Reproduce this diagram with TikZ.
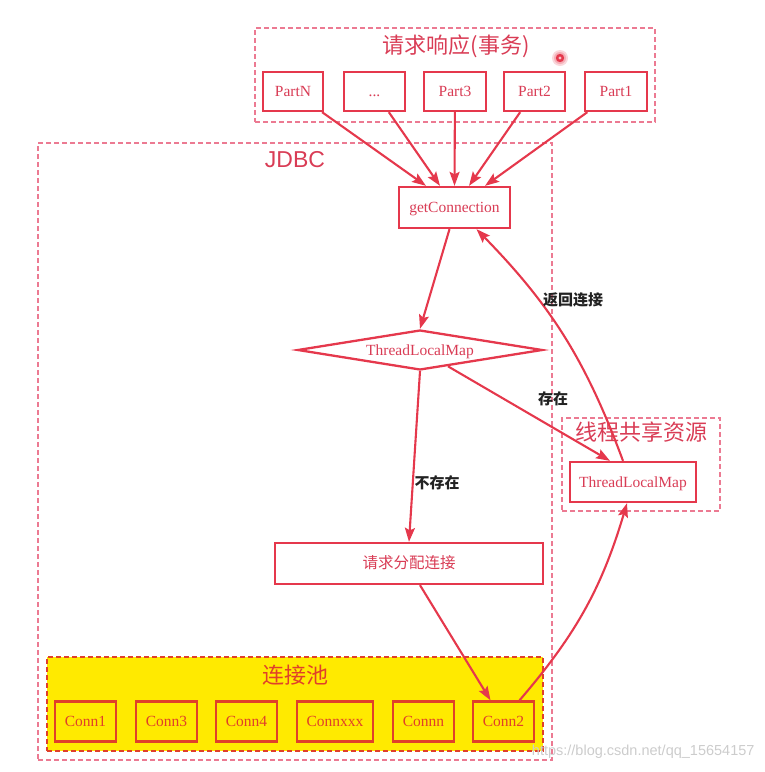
\documentclass[tikz,border=0pt]{standalone}
\usepackage{fontspec}
\setmainfont{Liberation Serif}
\setsansfont{Liberation Sans}
\newfontfamily\cjk{Noto Sans CJK SC}
\usetikzlibrary{arrows.meta,shapes.geometric,calc}
\definecolor{lred}{HTML}{E5384C}
\definecolor{dashred}{HTML}{EC7A92}
\definecolor{txtred}{HTML}{D93C55}
\definecolor{poolyel}{HTML}{FFEA00}
\definecolor{pooltxt}{HTML}{E0402A}
\definecolor{lbl}{HTML}{222222}
\begin{document}
\begin{tikzpicture}[x=1pt,y=-1pt,
  box/.style={draw=lred,line width=2.3pt,text=txtred,font=\fontsize{15.5}{17}\selectfont,inner sep=0pt,text height=11.5pt,text depth=1.5pt,minimum height=39pt,fill=white},
  cbox/.style={draw=pooltxt,line width=2.3pt,text=pooltxt,font=\fontsize{15.5}{17}\selectfont,inner sep=0pt,text height=11.5pt,text depth=1.5pt,minimum height=40pt,minimum width=61pt},
  group/.style={draw=dashred,line width=1.2pt,dash pattern=on 5pt off 3pt,inner sep=0pt},
  title/.style={text=txtred,font=\cjk\fontsize{22}{24}\selectfont},
  lab/.style={text=lbl,font=\cjk\bfseries\fontsize{15}{17}\selectfont,inner sep=1pt},
  arr/.style={draw=lred,line width=2.1pt,-{Stealth[length=14pt,width=10pt,inset=2.5pt]}}
]
\useasboundingbox (0,0) rectangle (765,772);

% containers
\node[group,minimum width=400pt,minimum height=94pt] (reqgrp) at (455,75) {};
\node[group,minimum width=514pt,minimum height=617pt] (jdbc) at (295,451.5) {};
\node[group,minimum width=158pt,minimum height=93pt] (sharegrp) at (641,464.5) {};
\node[group,draw=pooltxt,fill=poolyel,minimum width=496pt,minimum height=94pt] (pool) at (295,704) {};

% titles
\node[title] (reqtitle) at (456,46) {请求响应(事务)};
\node[text=txtred,font=\sffamily\fontsize{23}{25}\selectfont] (jdbctitle) at (295,160) {JDBC};
\node[title] (sharetitle) at (641,432) {线程共享资源};
\node[title,text=pooltxt] (pooltitle) at (295,675) {连接池};

% cursor dot
\fill[lred!20] (560,58) circle (8pt);
\fill[lred!40] (560,58) circle (6pt);
\fill[lred] (560,58) circle (4.2pt);
\fill[white!70!lred] (560,58) circle (1.6pt);

% parts
\node[box,minimum width=60pt] (partN) at (293,91.5) {PartN};
\node[box,minimum width=61pt] (dots) at (374.5,91.5) {...};
\node[box,minimum width=62pt] (part3) at (455,91.5) {Part3};
\node[box,minimum width=61pt] (part2) at (534.5,91.5) {Part2};
\node[box,minimum width=62pt] (part1) at (616,91.5) {Part1};

% main flow
\node[box,minimum width=111pt,minimum height=41pt] (gc) at (454.5,207.5) {getConnection};
\node[diamond,draw=lred,line width=2.3pt,text=txtred,font=\fontsize{15.5}{17}\selectfont,inner sep=0pt,text height=11.5pt,text depth=1.5pt,aspect=6,minimum width=245pt,minimum height=40pt,fill=white] (dia) at (420,350) {ThreadLocalMap};
\node[box,minimum width=268pt,minimum height=41pt] (alloc) at (409,563.5) {\cjk 请求分配连接};
\node[box,minimum width=126pt,minimum height=40pt] (tlm) at (633,482) {ThreadLocalMap};

% connections
\node[cbox] (c1) at (85.5,721.5) {Conn1};
\node[cbox] (c3) at (166.5,721.5) {Conn3};
\node[cbox] (c4) at (246.5,721.5) {Conn4};
\node[cbox,minimum width=76pt] (cx) at (335,721.5) {Connxxx};
\node[cbox] (cn) at (423.5,721.5) {Connn};
\node[cbox] (c2) at (503.5,721.5) {Conn2};

% targets on getConnection
\coordinate (t1) at ($(gc.north)+(-28.5,0)$);
\coordinate (t2) at ($(gc.north)+(-14.5,0)$);
\coordinate (t3) at ($(gc.north)+(0,0)$);
\coordinate (t4) at ($(gc.north)+(14.5,0)$);
\coordinate (t5) at ($(gc.north)+(30.5,0)$);
\draw[arr] (partN) -- (t1);
\draw[arr] (dots) -- (t2);
\draw[arr] (part3) -- (t3);
\draw[arr] (part2) -- (t4);
\draw[arr] (part1) -- (t5);

\draw[arr] ($(gc.south)+(-5,0)$) -- (dia.north);
\draw[arr] (dia.south) -- (alloc.north);
\draw[arr] (dia) -- ($(tlm.north)+(-23,0)$);
\draw[arr] ($(tlm.north)+(-10,0)$) to[bend right=12] ($(gc.south)+(22,0)$);
\draw[arr] ($(alloc.south)+(11,0)$) -- ($(c2.north)+(-13,0)$);
\draw[arr] ($(c2.north)+(16,0)$) to[bend right=12] ($(tlm.south)+(-6,0)$);

% labels
\node[lab] (lret) at (573,300) {返回连接};
\node[lab] (lyes) at (553,399) {存在};
\node[lab] (lno) at (437,483) {不存在};

% watermark
\node[text=gray!40,font=\sffamily\fontsize{14.5}{16}\selectfont,anchor=east] (wm) at (758,752) {https://blog.csdn.net/qq\_15654157};
\end{tikzpicture}
\end{document}
